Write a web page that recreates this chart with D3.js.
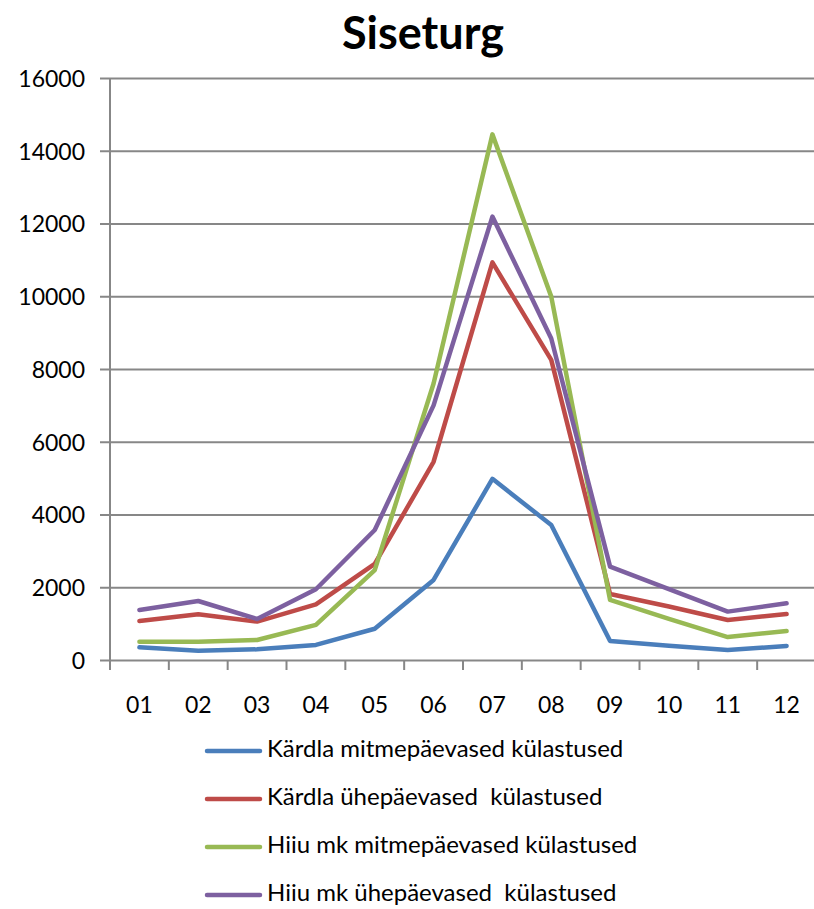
<!DOCTYPE html>
<html>
<head>
<meta charset="utf-8">
<script src="https://cdn.jsdelivr.net/npm/d3@7"></script>
<style>
  html, body { margin: 0; padding: 0; background: #fff; }
  svg { display: block; }
  text { font-family: Lato, "Open Sans", sans-serif; fill: #000; }
</style>
</head>
<body>
<svg id="chart" width="814" height="909"></svg>
<script>
const months = ["01","02","03","04","05","06","07","08","09","10","11","12"];
const yTicks = [0, 2000, 4000, 6000, 8000, 10000, 12000, 14000, 16000];
const seriesNames = [
  "Kärdla mitmepäevased külastused",
  "Kärdla ühepäevased  külastused",
  "Hiiu mk mitmepäevased külastused",
  "Hiiu mk ühepäevased  külastused"
];
const kardlaMulti = [350, 256, 293, 415, 860, 2200, 4980, 3710, 522, 390, 275, 385];
const kardlaDay   = [1070, 1255, 1055, 1530, 2640, 5450, 10930, 8250, 1814, 1470, 1100, 1265];
const hiiuMulti   = [505, 505, 550, 965, 2470, 7600, 14450, 9990, 1650, 1130, 630, 797];
const hiiuDay     = [1375, 1622, 1127, 1945, 3574, 7000, 12190, 8840, 2566, 1950, 1330, 1558];
const colors = ["#4A7EBB", "#BE4B48", "#98B954", "#7D60A0"];

const seriesValues = [kardlaMulti, kardlaDay, hiiuMulti, hiiuDay];

const svg = d3.select("#chart");
const plotLeft = 110, plotRight = 816, plotTop = 78, plotBottom = 660;

const x = d3.scaleBand().domain(months).range([plotLeft, plotRight]);
const y = d3.scaleLinear().domain([0, 16000]).range([plotBottom, plotTop]);

// Title
svg.append("text")
  .attr("x", 423).attr("y", 49)
  .attr("text-anchor", "middle")
  .style("font-size", "45px").style("font-weight", "bold")
  .text("Siseturg");

// Gridlines + y labels
const yAxis = d3.axisLeft(y).tickValues(yTicks).tickSize(-(814 - plotLeft)).tickPadding(13).tickFormat(d3.format("d"));
const gy = svg.append("g").attr("transform", `translate(${plotLeft},0)`).call(yAxis);
gy.select(".domain").remove();
gy.selectAll(".tick line").attr("stroke", "#878787").attr("stroke-width", 2).attr("x1", -10);
gy.selectAll(".tick text").style("font-size", "23px").attr("dy", "0.36em").attr("x", -25);

// y axis line
svg.append("line")
  .attr("x1", plotLeft).attr("x2", plotLeft)
  .attr("y1", plotTop).attr("y2", plotBottom + 10)
  .attr("stroke", "#878787").attr("stroke-width", 2);

// x axis ticks at band boundaries
const bounds = months.map(m => x(m)).concat([plotRight]);
svg.append("g").selectAll("line").data(bounds).join("line")
  .attr("x1", d => d).attr("x2", d => d)
  .attr("y1", plotBottom).attr("y2", plotBottom + 10)
  .attr("stroke", "#878787").attr("stroke-width", 2);

// x labels
svg.append("g").selectAll("text").data(months).join("text")
  .attr("x", d => x(d) + x.bandwidth() / 2)
  .attr("y", 713)
  .attr("text-anchor", "middle")
  .style("font-size", "23px")
  .text(d => d);

// Lines
const line = d3.line()
  .x((d, i) => x(months[i]) + x.bandwidth() / 2)
  .y(d => y(d));

svg.append("g").selectAll("path").data(seriesValues).join("path")
  .attr("d", d => line(d))
  .attr("fill", "none")
  .attr("stroke", (d, i) => colors[i])
  .attr("stroke-width", 4.5)
  .attr("stroke-linejoin", "round")
  .attr("stroke-linecap", "round");

// Legend
const legendY = [751, 799, 847, 895];
const lg = svg.append("g").selectAll("g").data(seriesNames).join("g")
  .attr("transform", (d, i) => `translate(0,${legendY[i]})`);
lg.append("line")
  .attr("x1", 207).attr("x2", 260).attr("y1", 0).attr("y2", 0)
  .attr("stroke", (d, i) => colors[i]).attr("stroke-width", 4.5)
  .attr("stroke-linecap", "round");
lg.append("text")
  .attr("x", 267).attr("y", 0).attr("dy", "0.27em")
  .style("font-size", "24px")
  .style("white-space", "pre")
  .text(d => d);
</script>
</body>
</html>
